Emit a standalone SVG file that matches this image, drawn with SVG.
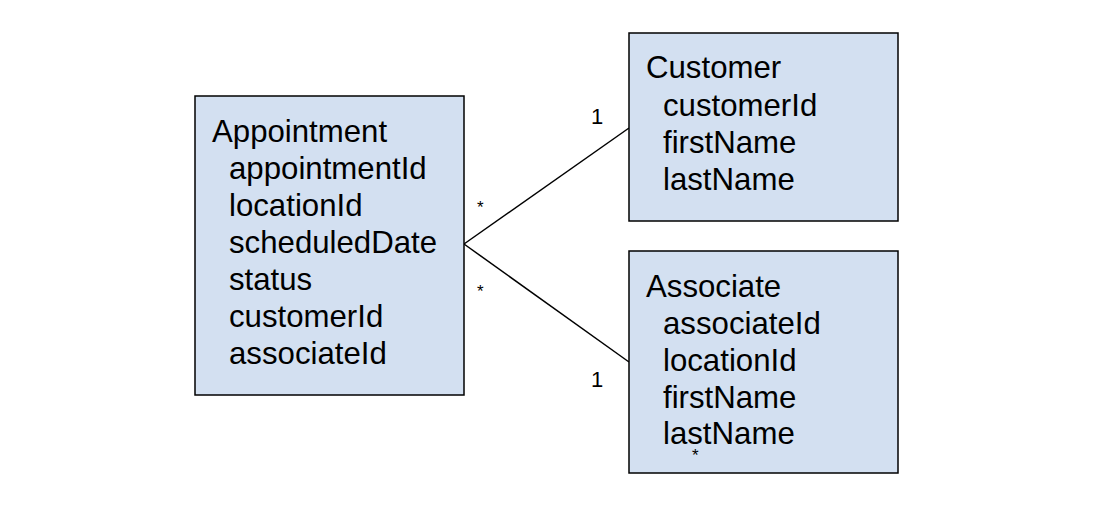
<svg xmlns="http://www.w3.org/2000/svg" width="1114" height="506" viewBox="0 0 1114 506">
<style>
.box{fill:#d3e0f1;stroke:#000;stroke-width:1.5}
.t{font-family:"Liberation Sans",Arial,sans-serif;font-size:31.2px;fill:#000}
.m{font-family:"Liberation Sans",Arial,sans-serif;font-size:17px;fill:#000}
.n{font-family:"Liberation Sans",Arial,sans-serif;font-size:22px;fill:#000}
.c{stroke:#000;stroke-width:1.5;fill:none}
</style>
<rect width="1114" height="506" fill="#fff"/>
<g id="connectors">
<line class="c" x1="464" y1="244" x2="629" y2="128"/>
<line class="c" x1="464" y1="244" x2="629" y2="362"/>
<text class="n" x="591" y="124">1</text>
<text class="m" x="477" y="213">*</text>
<text class="m" x="477" y="297">*</text>
<text class="n" x="591" y="387">1</text>
</g>
<g id="appointment">
<rect class="box" x="195" y="96" width="269" height="299"/>
<text class="t" x="212" y="142">Appointment</text>
<text class="t" x="229" y="179">appointmentId</text>
<text class="t" x="229" y="216">locationId</text>
<text class="t" x="229" y="253">scheduledDate</text>
<text class="t" x="229" y="290">status</text>
<text class="t" x="229" y="327">customerId</text>
<text class="t" x="229" y="364">associateId</text>
</g>
<g id="customer">
<rect class="box" x="629" y="33" width="269" height="188"/>
<text class="t" x="646" y="78">Customer</text>
<text class="t" x="663" y="116">customerId</text>
<text class="t" x="663" y="153">firstName</text>
<text class="t" x="663" y="190">lastName</text>
</g>
<g id="associate">
<rect class="box" x="629" y="251" width="269" height="222"/>
<text class="t" x="646" y="297">Associate</text>
<text class="t" x="663" y="334">associateId</text>
<text class="t" x="663" y="371">locationId</text>
<text class="t" x="663" y="408">firstName</text>
<text class="t" x="663" y="444">lastName</text>
<text class="m" x="692" y="461" font-size="16">*</text>
</g>
</svg>
